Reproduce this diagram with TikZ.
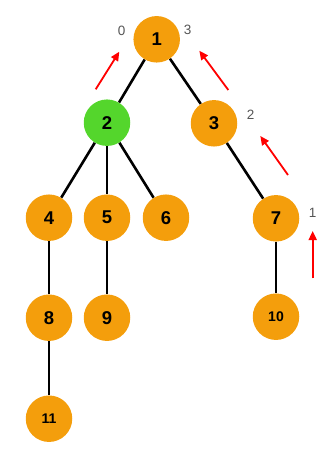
\documentclass[tikz,border=0pt]{standalone}
\usepackage{fontspec}
\setmainfont{Liberation Sans}
\usepackage{tikz}
\usetikzlibrary{arrows.meta, positioning, backgrounds}
\definecolor{nodeorange}{HTML}{F49E0C}
\definecolor{nodegreen}{HTML}{54D62C}
\definecolor{labelgray}{HTML}{555555}

\begin{document}
\begin{tikzpicture}[
    x=1pt, y=-1pt,
    vtx/.style   = {circle, fill=nodeorange, minimum size=46.5pt, inner sep=0pt,
                    font=\fontsize{18.5}{18.5}\selectfont\bfseries},
    vtxsm/.style = {vtx, font=\fontsize{14}{14}\selectfont\bfseries},
    root/.style  = {vtx, fill=nodegreen},
    edge/.style  = {line width=2.6pt, black},
    cnt/.style   = {font=\fontsize{13.5}{13.5}\selectfont\color{labelgray}},
    up/.style    = {-{Triangle[length=9pt, width=8pt]}, line width=1.8pt, red}
  ]
  \useasboundingbox (0,0) rectangle (332,457);

  % ── Vertices ──────────────────────────────────────────────────────────────
  \node[vtx]   (n1)  at (156.7, 39.3)  {1};
  \node[root]  (n2)  at (107.0,122.7)  {2};
  \node[vtx]   (n3)  at (214.0,123.3)  {3};
  \node[vtx]   (n4)  at ( 49.0,217.7)  {4};
  \node[vtx]   (n5)  at (107.0,217.7)  {5};
  \node[vtx]   (n6)  at (166.0,217.7)  {6};
  \node[vtx]   (n7)  at (276.0,218.3)  {7};
  \node[vtx]   (n8)  at ( 49.0,317.7)  {8};
  \node[vtx]   (n9)  at (107.0,317.7)  {9};
  \node[vtxsm] (n10) at (276.0,316.7)  {10};
  \node[vtxsm] (n11) at ( 49.0,418.7)  {11};

  % ── Tree edges ────────────────────────────────────────────────────────────
  \begin{scope}[on background layer]
    \draw[edge] (n1) -- (n2);
    \draw[edge] (n1) -- (n3);
    \draw[edge] (n2) -- (n4);
    \draw[edge] (n2) -- (n5);
    \draw[edge] (n2) -- (n6);
    \draw[edge] (n3) -- (n7);
    \draw[edge] (n4) -- (n8);
    \draw[edge] (n5) -- (n9);
    \draw[edge] (n7) -- (n10);
    \draw[edge] (n8) -- (n11);
  \end{scope}

  % ── Counters ──────────────────────────────────────────────────────────────
  \node[cnt] (c0) at (121.7, 31.0) {0};
  \node[cnt] (c3) at (187.7, 30.0) {3};
  \node[cnt] (c2) at (250.7,115.0) {2};
  \node[cnt] (c1) at (312.7,213.3) {1};

  % ── Upward arrows ─────────────────────────────────────────────────────────
  \coordinate (a1s) at ( 95.7, 89.3);  \coordinate (a1e) at (119.3, 51.7);
  \coordinate (a2s) at (228.3, 90.0);  \coordinate (a2e) at (199.3, 50.7);
  \coordinate (a3s) at (288.0,175.0);  \coordinate (a3e) at (260.3,136.0);
  \coordinate (a4s) at (312.7,278.3);  \coordinate (a4e) at (312.7,231.0);
  \draw[up] (a1s) -- (a1e);
  \draw[up] (a2s) -- (a2e);
  \draw[up] (a3s) -- (a3e);
  \draw[up] (a4s) -- (a4e);
\end{tikzpicture}
\end{document}
